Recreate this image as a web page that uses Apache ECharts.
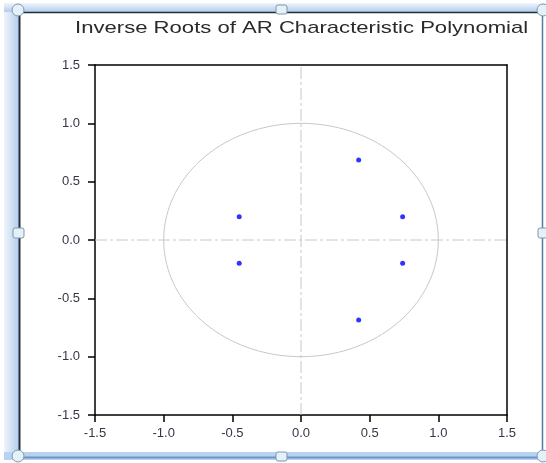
<!DOCTYPE html>
<html>
<head>
<meta charset="utf-8">
<script src="https://cdn.jsdelivr.net/npm/echarts@6/dist/echarts.min.js"></script>
<style>html,body{margin:0;padding:0;background:#fff}#c{width:546px;height:463px}</style>
</head>
<body>
<div id="c"></div>
<script>
// Data
var titleText = 'Inverse Roots of AR Characteristic Polynomial';
var rootsRe = [0.42, 0.42, 0.74, 0.74, -0.45, -0.45];
var rootsIm = [0.686, -0.686, 0.20, -0.20, 0.20, -0.20];
var axisMin = -1.5, axisMax = 1.5, axisStep = 0.5;
var unitRadius = 1;

var roots = rootsRe.map(function (r, i) { return [r, rootsIm[i]]; });
var circle = [];
for (var a = 0; a <= 360; a += 2) {
  var t = a * Math.PI / 180;
  circle.push([unitRadius * Math.cos(t), unitRadius * Math.sin(t)]);
}
var hLine = [[axisMin, 0], [axisMax, 0]];
var vLine = [[0, axisMin], [0, axisMax]];

var labelColor = '#3b3448';
var chart = echarts.init(document.getElementById('c'), null, { renderer: 'canvas' });

function fmt(v) { return v.toFixed(1); }

var handleFill = '#e3f1f8', handleStroke = '#7f97b0';
var band = new echarts.graphic.LinearGradient(0, 0, 1, 0, [{ offset: 0, color: '#eef5fc' }, { offset: 1, color: '#b3cdec' }]);
var bandV = new echarts.graphic.LinearGradient(0, 0, 0, 1, [{ offset: 0, color: '#eef5fc' }, { offset: 1, color: '#b3cdec' }]);

chart.setOption({
  animation: false,
  backgroundColor: '#ffffff',
  grid: { left: 95, right: 39, top: 65, bottom: 48, show: false },
  xAxis: [{
    type: 'value', min: axisMin, max: axisMax, interval: axisStep, position: 'bottom',
    axisLine: { onZero: false, lineStyle: { color: '#000', width: 1.5 } },
    axisTick: { show: true, length: 7, lineStyle: { color: '#000', width: 1.5 } },
    axisLabel: { formatter: fmt, color: labelColor, fontFamily: 'Liberation Sans', fontSize: 13, margin: 12 },
    splitLine: { show: false }
  }, {
    type: 'value', min: axisMin, max: axisMax, interval: axisStep, position: 'top',
    axisLine: { onZero: false, lineStyle: { color: '#000', width: 1.5 } },
    axisTick: { show: false }, axisLabel: { show: false }, splitLine: { show: false }
  }],
  yAxis: [{
    type: 'value', min: axisMin, max: axisMax, interval: axisStep, position: 'left',
    axisLine: { onZero: false, lineStyle: { color: '#000', width: 1.5 } },
    axisTick: { show: true, length: 7, lineStyle: { color: '#000', width: 1.5 } },
    axisLabel: { formatter: fmt, color: labelColor, fontFamily: 'Liberation Sans', fontSize: 13, margin: 15 },
    splitLine: { show: false }
  }, {
    type: 'value', min: axisMin, max: axisMax, interval: axisStep, position: 'right',
    axisLine: { onZero: false, lineStyle: { color: '#000', width: 1.5 } },
    axisTick: { show: false }, axisLabel: { show: false }, splitLine: { show: false }
  }],
  series: [
    { type: 'line', data: hLine, symbol: 'none', silent: true,
      lineStyle: { color: '#c8c8c8', width: 1, type: [12, 3, 3, 3] } },
    { type: 'line', data: vLine, symbol: 'none', silent: true,
      lineStyle: { color: '#c8c8c8', width: 1, type: [12, 3, 3, 3] } },
    { type: 'line', data: circle, symbol: 'none', smooth: false, silent: true,
      lineStyle: { color: '#c8c8c8', width: 1 } },
    { type: 'scatter', data: roots, symbol: 'circle', symbolSize: 5,
      itemStyle: { color: '#0000ff' } }
  ],
  graphic: [
    { type: 'text', x: 75, y: 20, scaleX: 1.3, style: { text: titleText, font: '17px "Liberation Sans"', fill: '#2a2a2a' } },
    // selection frame bands
    { type: 'rect', shape: { x: 4, y: 9, width: 15, height: 446 }, style: { fill: band }, silent: true },
    { type: 'rect', shape: { x: 4, y: 3, width: 542, height: 9 }, style: { fill: bandV }, silent: true },
    { type: 'rect', shape: { x: 4, y: 452, width: 542, height: 8 }, style: { fill: '#b9d2ef' }, silent: true },
    { type: 'line', shape: { x1: 19.5, y1: 12, x2: 19.5, y2: 451 }, style: { stroke: '#22303e', lineWidth: 2 }, silent: true },
    { type: 'line', shape: { x1: 19, y1: 12.5, x2: 543, y2: 12.5 }, style: { stroke: '#22303e', lineWidth: 1.5 }, silent: true },
    { type: 'line', shape: { x1: 542.5, y1: 12, x2: 542.5, y2: 456 }, style: { stroke: '#5a7aa0', lineWidth: 1.5 }, silent: true },
    { type: 'line', shape: { x1: 19, y1: 457.5, x2: 543, y2: 457.5 }, style: { stroke: '#6f93c4', lineWidth: 2 }, silent: true },
    // handles
    { type: 'circle', shape: { cx: 18, cy: 10, r: 6 }, style: { fill: handleFill, stroke: handleStroke, lineWidth: 1 }, silent: true },
    { type: 'circle', shape: { cx: 543, cy: 10, r: 6 }, style: { fill: handleFill, stroke: handleStroke, lineWidth: 1 }, silent: true },
    { type: 'circle', shape: { cx: 18, cy: 456, r: 6 }, style: { fill: handleFill, stroke: handleStroke, lineWidth: 1 }, silent: true },
    { type: 'circle', shape: { cx: 543, cy: 456, r: 6 }, style: { fill: handleFill, stroke: handleStroke, lineWidth: 1 }, silent: true },
    { type: 'rect', shape: { x: 276, y: 5, width: 11, height: 9, r: 2 }, style: { fill: handleFill, stroke: handleStroke, lineWidth: 1 }, silent: true },
    { type: 'rect', shape: { x: 276, y: 452, width: 11, height: 9, r: 2 }, style: { fill: handleFill, stroke: handleStroke, lineWidth: 1 }, silent: true },
    { type: 'rect', shape: { x: 13, y: 228, width: 11, height: 10, r: 2 }, style: { fill: handleFill, stroke: handleStroke, lineWidth: 1 }, silent: true },
    { type: 'rect', shape: { x: 538, y: 228, width: 11, height: 10, r: 2 }, style: { fill: handleFill, stroke: handleStroke, lineWidth: 1 }, silent: true }
  ]
});
</script>
</body>
</html>
